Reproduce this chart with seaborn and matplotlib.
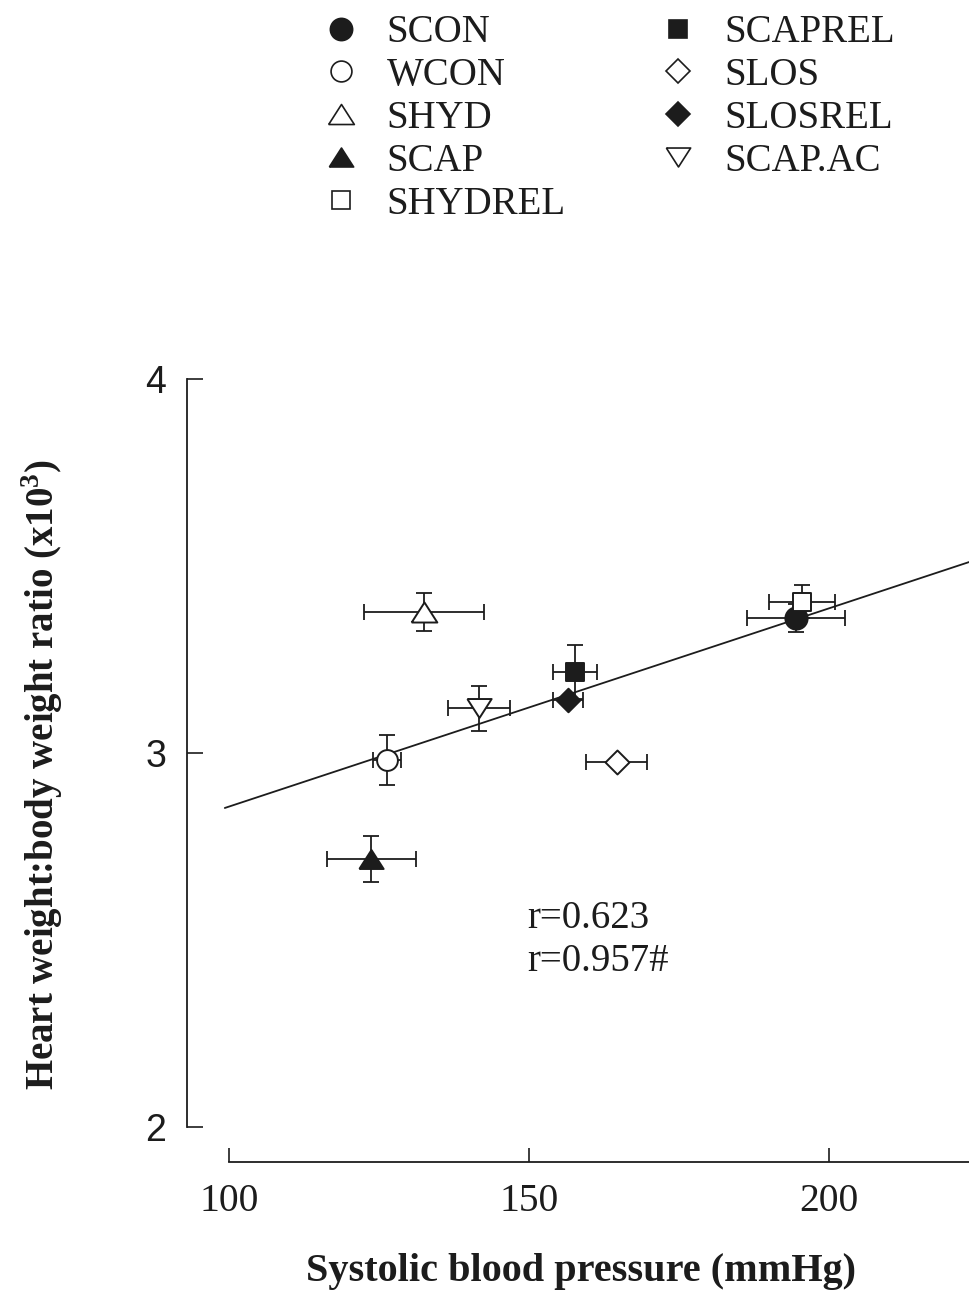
import matplotlib
matplotlib.use("Agg")
import matplotlib.pyplot as plt
from matplotlib.lines import Line2D
import seaborn as sns

# ---------------- data ----------------
groups = ["SCON", "WCON", "SHYD", "SCAP", "SHYDREL",
          "SCAPREL", "SLOS", "SLOSREL", "SCAP.AC"]
sbp = [194.5, 126.3, 132.5, 123.7, 195.5, 157.7, 164.6, 156.5, 141.7]
sbp_err = [8.2, 2.3, 10.0, 7.4, 5.5, 3.7, 5.1, 2.5, 5.2]
ratio = [3.361, 2.981, 3.377, 2.717, 3.405, 3.217, 2.976, 3.142, 3.120]
ratio_err = [0.037, 0.067, 0.050, 0.061, 0.043, 0.072, 0.0, 0.0, 0.060]

fit_x = [99.3, 224.0]
fit_y = [2.853, 3.514]

annotations = ["r=0.623", "r=0.957#"]
x_ticks = [100, 150, 200]
y_ticks = [2, 3, 4]

# ---------------- styles ----------------
TRI_UP = [(-1, -0.78), (1, -0.78), (0, 0.78), (-1, -0.78)]
TRI_DN = [(-1, 0.78), (1, 0.78), (0, -0.78), (-1, 0.78)]
markers = ["o", "o", TRI_UP, TRI_UP, "s", "s", "D", "D", TRI_DN]
filled = [True, False, False, True, False, True, False, True, False]
msizes = [16, 15, 18.5, 17.5, 13, 12.5, 12.2, 12, 17.5]

INK = "#1c1c1c"
sns.set_theme(style="ticks")
plt.rcParams["font.family"] = ["Liberation Serif", "DejaVu Serif"]
plt.rcParams["mathtext.fontset"] = "custom"
plt.rcParams["mathtext.rm"] = "Liberation Serif"
plt.rcParams["mathtext.bf"] = "Liberation Serif:bold"

fig = plt.figure(figsize=(9.70, 12.91), dpi=100, facecolor="white")
ax = fig.add_axes([229 / 970, 164 / 1291, 741 / 970, 748 / 1291])
ax.set_facecolor("white")

# regression line
sns.lineplot(x=fit_x, y=fit_y, ax=ax, color=INK, linewidth=1.3, clip_on=False, zorder=2)

# error bars
ax.errorbar(sbp, ratio, xerr=sbp_err, yerr=ratio_err, fmt="none", ecolor=INK,
            elinewidth=1.3, capsize=5.5, capthick=1.3, zorder=1.5, clip_on=False)

# markers
for i, g in enumerate(groups):
    sns.scatterplot(x=[sbp[i]], y=[ratio[i]], ax=ax, marker=markers[i],
                    s=msizes[i] ** 2, color=INK if filled[i] else "white",
                    edgecolor=INK, linewidth=1.4, zorder=3, clip_on=False, legend=False)

# axes
ax.set_xlim(100, 223.5)
ax.set_ylim(2, 4)
ax.set_xticks(x_ticks)
ax.set_yticks(y_ticks)
sns.despine(ax=ax)
ax.spines["left"].set_position(("outward", 30))
ax.spines["bottom"].set_position(("outward", 25))
ax.spines["left"].set_bounds(2, 4)
for s in ("left", "bottom"):
    ax.spines[s].set_linewidth(1.3)
    ax.spines[s].set_color(INK)
ax.tick_params(axis="x", direction="in", length=10, width=1.2, pad=15, colors=INK,
               labelsize=28.5)
ax.tick_params(axis="y", direction="in", length=11.5, width=1.2, pad=15, colors=INK,
               labelsize=27)
ax.set_xticklabels([str(t) for t in x_ticks])
ax.set_yticklabels([str(t) for t in y_ticks])
for lab in ax.get_xticklabels():
    lab.set_fontfamily("Liberation Serif")
for lab in ax.get_yticklabels():
    lab.set_fontfamily("Liberation Sans")

ax.set_xlabel("Systolic blood pressure (mmHg)", fontsize=29, fontweight="bold", color=INK)
ax.set_ylabel(r"Heart weight:body weight ratio (x10$^\mathbf{3}$)", fontsize=28,
              fontweight="bold", color=INK)
ax.xaxis.set_label_coords(0.475, -0.168)
ax.yaxis.set_label_coords(-0.221, 0.4706)

# r annotations
ax.text(149.7, 2.558, annotations[0], fontsize=28, color=INK, va="center", ha="left")
ax.text(149.7, 2.443, annotations[1], fontsize=28, color=INK, va="center", ha="left")

# legend
handles = [Line2D([0], [0], linestyle="none", marker=markers[i], markersize=msizes[i],
                  markerfacecolor=INK if filled[i] else "white", markeredgecolor=INK,
                  markeredgewidth=1.2) for i in range(len(groups))]
fig.legend(handles, groups, loc="upper left", bbox_to_anchor=(0.331, 0.989), ncol=2,
           frameon=False, fontsize=28, handlelength=1.0, handletextpad=0.68,
           columnspacing=2.4, labelspacing=0.15, borderpad=0, borderaxespad=0,
           labelcolor=INK)

fig.savefig("out.png", dpi=100, facecolor="white")
